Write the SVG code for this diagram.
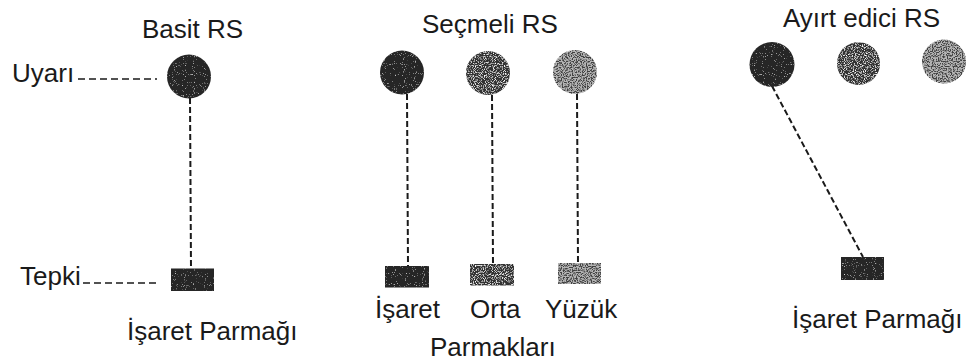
<svg xmlns="http://www.w3.org/2000/svg" width="970" height="361" viewBox="0 0 970 361">
<style>
.t{font-family:"Liberation Sans",Arial,sans-serif;font-size:26px;fill:#1a1a1a}
.c{stroke:#1a1a1a;stroke-width:2;stroke-dasharray:6 3;fill:none}
.h{stroke:#1a1a1a;stroke-width:1.6;stroke-dasharray:7 4;fill:none}
.d1{fill:#262626;filter:url(#sp1)}
.d2{fill:#303030;filter:url(#sp2)}
.d3{fill:#b4b4b4;filter:url(#sp3)}
</style>
<defs>
<filter id="sp1" x="0" y="0" width="1" height="1">
<feTurbulence type="fractalNoise" baseFrequency="0.9" numOctaves="1" seed="3" result="n"/>
<feColorMatrix in="n" type="matrix" values="0 0 0 0 1 0 0 0 0 1 0 0 0 0 1 3 0 0 0 -1.9" result="w"/>
<feComposite in="w" in2="SourceGraphic" operator="in" result="s"/>
<feMerge><feMergeNode in="SourceGraphic"/><feMergeNode in="s"/></feMerge>
</filter>
<filter id="sp2" x="0" y="0" width="1" height="1">
<feTurbulence type="fractalNoise" baseFrequency="0.9" numOctaves="1" seed="7" result="n"/>
<feColorMatrix in="n" type="matrix" values="0 0 0 0 1 0 0 0 0 1 0 0 0 0 1 4 0 0 0 -2.0" result="w"/>
<feComposite in="w" in2="SourceGraphic" operator="in" result="s"/>
<feMerge><feMergeNode in="SourceGraphic"/><feMergeNode in="s"/></feMerge>
</filter>
<filter id="sp3" x="0" y="0" width="1" height="1" color-interpolation-filters="sRGB">
<feTurbulence type="fractalNoise" baseFrequency="0.8" numOctaves="1" seed="11" result="n"/>
<feColorMatrix in="n" type="matrix" values="0 0 0 0 0.25 0 0 0 0 0.25 0 0 0 0 0.25 -6 0 0 0 3.3" result="w"/>
<feComposite in="w" in2="SourceGraphic" operator="in" result="s"/>
<feMerge><feMergeNode in="SourceGraphic"/><feMergeNode in="s"/></feMerge>
</filter>
</defs>
<rect width="970" height="361" fill="#fff"/>

<g id="connectors">
<line class="h" x1="78" y1="79" x2="157" y2="79"/>
<line class="h" x1="83" y1="283" x2="158" y2="283"/>
<line class="c" x1="190" y1="98" x2="191" y2="269"/>
<line class="c" x1="407" y1="94" x2="408" y2="266"/>
<line class="c" x1="492" y1="95" x2="493" y2="264"/>
<line class="c" x1="577" y1="94" x2="578" y2="263"/>
<line class="c" x1="772" y1="86" x2="863" y2="257"/>
</g>

<g id="basit">
<text class="t" x="142" y="38">Basit RS</text>
<text class="t" x="12" y="82">Uyarı</text>
<text class="t" x="20" y="285">Tepki</text>
<circle id="basit-uyari" class="d1" cx="189" cy="76.5" r="22"/>
<rect id="basit-tepki" class="d1" x="171" y="268.5" width="43" height="22.5"/>
<text class="t" x="127" y="340">İşaret Parmağı</text>
</g>

<g id="secmeli">
<text class="t" x="422" y="33">Seçmeli RS</text>
<circle id="s-c1" class="d1" cx="402" cy="72.5" r="22"/>
<circle id="s-c2" class="d2" cx="488" cy="73" r="22"/>
<circle id="s-c3" class="d3" cx="575" cy="72" r="22"/>
<rect id="s-r1" class="d1" x="385" y="266" width="44" height="21.5"/>
<rect id="s-r2" class="d2" x="470" y="264" width="44" height="21.5"/>
<rect id="s-r3" class="d3" x="558" y="263" width="43" height="21"/>
<text class="t" x="375" y="318">İşaret</text>
<text class="t" x="470" y="318">Orta</text>
<text class="t" x="545" y="318">Yüzük</text>
<text class="t" x="430" y="356">Parmakları</text>
</g>

<g id="ayirt">
<text class="t" x="783" y="27">Ayırt edici RS</text>
<circle id="a-c1" class="d1" cx="772" cy="64.5" r="22.5"/>
<circle id="a-c2" class="d2" cx="858.5" cy="63.5" r="21.5"/>
<circle id="a-c3" class="d3" cx="944" cy="61.5" r="22"/>
<rect id="a-r1" class="d1" x="841" y="257" width="43" height="23"/>
<text class="t" x="792" y="328">İşaret Parmağı</text>
</g>
</svg>
